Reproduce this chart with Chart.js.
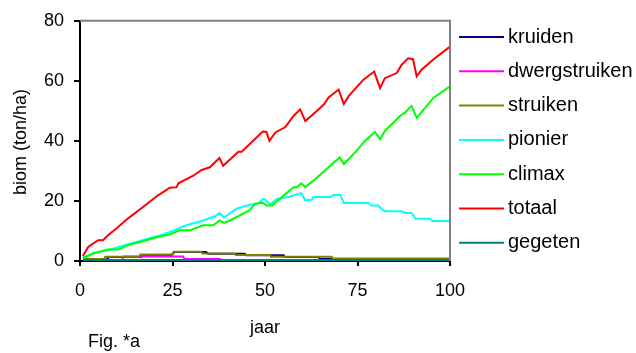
<!DOCTYPE html>
<html>
<head>
<meta charset="utf-8">
<script src="https://cdn.jsdelivr.net/npm/chart.js@4/dist/chart.umd.min.js"></script>
<style>
  html, body { margin: 0; padding: 0; background: #fff; }
  #wrap { width: 636px; height: 353px; }
</style>
</head>
<body>
<div id="wrap"><canvas id="grafiek" width="636" height="353"></canvas></div>
<script>
// series (jaar -> biom, ton/ha)
const reeksNamen = ['kruiden', 'dwergstruiken', 'struiken', 'pionier', 'climax', 'totaal', 'gegeten'];
const reeksKleuren = ['#000080', '#ff00ff', '#808000', '#00ffff', '#00ff00', '#ff0000', '#008080'];

const kruidenJaar = [0.8, 7.3, 7.8, 16.5, 17.2, 24.8, 25.5, 34.1, 34.6, 44.5, 45.0, 55.0, 55.5, 64.4, 64.9, 100];
const kruidenBiom = [0.4, 0.6, 1.3, 1.3, 2.0, 2.0, 3.0, 3.0, 2.4, 2.4, 1.9, 1.9, 1.3, 1.3, 0.7, 0.7];

const dwergJaar = [0.8, 11.3, 11.8, 27.8, 28.3, 37.8, 38.3];
const dwergBiom = [0.2, 0.2, 1.5, 1.5, 0.7, 0.7, 0.1];

const struikenJaar = [0.8, 6.5, 6.8, 16.0, 16.3, 25.0, 25.3, 32.8, 33.1, 41.8, 42.1, 51.3, 51.6, 68.0, 68.3, 100];
const struikenBiom = [0.66, 0.66, 1.4, 1.4, 2.2, 2.2, 3.1, 3.1, 2.5, 2.5, 2.0, 2.0, 1.4, 1.4, 0.85, 0.85];

const pionierJaar = [0.8, 4, 7.6, 13, 21, 24.3, 28.8, 33.3, 36.5, 37.7, 38.9, 42.3, 45.9, 48.2, 49.4, 50.1,
  51.4, 53.2, 56.4, 57.7, 59.8, 60.9, 62.7, 63.1, 67.7, 68.6, 70.3, 71.3, 77.9, 78.8, 80.6, 81.4, 82.4,
  86.9, 87.8, 89.6, 90.7, 94.6, 95.2, 100];
const pionierBiom = [1.2, 2.8, 3.6, 5.6, 8.3, 9.7, 11.9, 13.5, 14.9, 16, 14.5, 17.4, 18.7, 19.1, 20.7, 20.4,
  18.8, 20.7, 21.3, 21.8, 22.6, 20.2, 20.4, 21.3, 21.3, 22, 22, 19.3, 19.3, 18.5, 18.5, 17.4, 16.6,
  16.6, 16, 16, 14.1, 14.1, 13.3, 13.3];

const climaxJaar = [0.8, 3.5, 7.6, 10.3, 13, 16.5, 21, 24.3, 27, 29.7, 33.3, 36, 37.7, 38.9, 40.5, 42.3,
  45.9, 47.3, 49.4, 50.5, 51.9, 54.6, 57.7, 58.6, 59.8, 60.9, 63.6, 67.2, 70.2, 71.3, 74.3, 77, 79.7,
  81.1, 82.4, 86.5, 87.8, 89.6, 91, 95.5, 100];
const climaxBiom = [0.9, 2.5, 3.8, 3.8, 5.3, 6.4, 8, 8.9, 10.2, 10.2, 11.9, 11.9, 13.5, 12.7, 13.5, 14.6,
  16.9, 19.1, 19.4, 18.5, 18.5, 21.3, 24.6, 24.6, 25.9, 24.6, 27.3, 31.2, 34.5, 32.3, 36.1, 40, 43,
  40.6, 43.3, 48.3, 49.4, 51.6, 47.7, 54.3, 58.2];

const totaalJaar = [0.8, 2.2, 4.9, 6.2, 7.6, 10.3, 13, 16.5, 21, 24.3, 26.1, 26.6, 30.6, 32.9, 35.1, 37.7,
  38.7, 42.8, 43.7, 49.4, 50.4, 51.2, 52.8, 55.5, 57.7, 59.5, 60.9, 63.1, 65.9, 67.2, 69.9, 71.3, 72.6,
  76.6, 79.5, 81.1, 82.4, 85.6, 86.9, 88.7, 90, 91, 92.3, 95.9, 100];
const totaalBiom = [1.7, 4.7, 6.9, 6.9, 8.6, 11.3, 14.2, 17.5, 21.8, 24.4, 24.6, 25.9, 28.4, 30.3, 31.2, 34.3,
  31.7, 36.4, 36.4, 43.1, 43.0, 40, 42.8, 44.6, 48.3, 50.5, 46.6, 49, 52.1, 54.5, 57.1, 52.3, 54.9,
  60.4, 63.1, 57.6, 60.9, 62.6, 65.3, 67.5, 67.2, 61.5, 63.7, 67.5, 71.4];

const gegetenJaar = [0.8, 100];
const gegetenBiom = [0.3, 0.3];

const xTicks = [0, 25, 50, 75, 100];
const yTicks = [0, 20, 40, 60, 80];

const reeksJaren = [kruidenJaar, dwergJaar, struikenJaar, pionierJaar, climaxJaar, totaalJaar, gegetenJaar];
const reeksWaarden = [kruidenBiom, dwergBiom, struikenBiom, pionierBiom, climaxBiom, totaalBiom, gegetenBiom];

const FONT = 'Liberation Sans, Arial, sans-serif';

// ============================
// LEGENDA + RAND + TEKSTEN
// ============================
const extraPlugin = {
  id: 'extra',
  afterDraw(chart) {
    const ctx = chart.ctx;
    const a = chart.chartArea;
    ctx.save();

    // grijze rand boven en rechts
    ctx.strokeStyle = '#808080';
    ctx.lineWidth = 2;
    ctx.beginPath();
    ctx.moveTo(a.left, a.top);
    ctx.lineTo(a.right, a.top);
    ctx.lineTo(a.right, a.bottom);
    ctx.stroke();

    // legenda
    ctx.font = '20px ' + FONT;
    ctx.textBaseline = 'middle';
    ctx.textAlign = 'left';
    chart.data.datasets.forEach((ds, i) => {
      const y = 37 + i * 34.3;
      ctx.strokeStyle = ds.borderColor;
      ctx.lineWidth = 2;
      ctx.beginPath();
      ctx.moveTo(459, y);
      ctx.lineTo(504, y);
      ctx.stroke();
      ctx.fillStyle = '#000';
      ctx.fillText(ds.label, 508, y);
    });

    // titels
    ctx.font = '18px ' + FONT;
    ctx.textBaseline = 'alphabetic';
    ctx.textAlign = 'center';
    ctx.fillText('jaar', 265, 333);
    ctx.textAlign = 'left';
    ctx.fillText('Fig. *a', 88, 347);

    ctx.translate(26, 142);
    ctx.rotate(-Math.PI / 2);
    ctx.textAlign = 'center';
    ctx.fillText('biom (ton/ha)', 0, 0);

    ctx.restore();
  }
};

const datasets = reeksNamen.map((naam, i) => ({
  label: naam,
  data: reeksJaren[i].map((x, j) => ({ x, y: reeksWaarden[i][j] })),
  borderColor: reeksKleuren[i],
  backgroundColor: reeksKleuren[i],
  borderWidth: 2,
  pointRadius: 0,
  tension: 0,
  fill: false,
  order: reeksNamen.length - i
}));

new Chart(document.getElementById('grafiek').getContext('2d'), {
  type: 'line',
  data: { datasets },
  options: {
    responsive: false,
    animation: false,
    layout: { padding: { left: 0, top: 19, right: 186, bottom: 0 } },
    plugins: {
      legend: { display: false },
      tooltip: { enabled: false }
    },
    scales: {
      x: {
        type: 'linear',
        min: 0,
        max: 100,
        afterFit: s => { s.height = 92; },
        afterBuildTicks: s => { s.ticks = xTicks.map(v => ({ value: v })); },
        ticks: { color: '#000', font: { size: 18, family: FONT }, padding: 14, maxRotation: 0 },
        grid: { drawOnChartArea: false, drawTicks: true, tickLength: 5, color: '#000', lineWidth: 2 },
        border: { display: true, color: '#000', width: 2 }
      },
      y: {
        min: 0,
        max: 80,
        afterFit: s => { s.width = 80; },
        afterBuildTicks: s => { s.ticks = yTicks.map(v => ({ value: v })); },
        ticks: { color: '#000', font: { size: 18, family: FONT }, padding: 10 },
        grid: { drawOnChartArea: false, drawTicks: true, tickLength: 6, color: '#000', lineWidth: 2 },
        border: { display: true, color: '#000', width: 2 }
      }
    }
  },
  plugins: [extraPlugin]
});
</script>
</body>
</html>
